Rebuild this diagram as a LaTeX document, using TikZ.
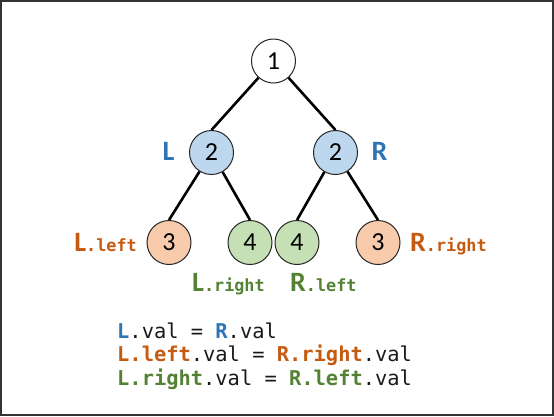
\documentclass[tikz,border=0pt]{standalone}
\usepackage{fontspec}
\setmainfont{Carlito}
\newfontfamily\codefont{DejaVu Sans Mono}
\definecolor{cblue}{HTML}{2E75B6}
\definecolor{corange}{HTML}{C55A11}
\definecolor{cgreen}{HTML}{548235}
\definecolor{fblue}{HTML}{BDD7EE}
\definecolor{forange}{HTML}{F8CBAD}
\definecolor{fgreen}{HTML}{C5E0B4}
\begin{document}
\begin{tikzpicture}[x=1pt,y=-1pt,
  tnode/.style={circle,draw=black!85,line width=1pt,minimum size=44pt,inner sep=0pt,font=\fontsize{26}{26}\selectfont},
  edge/.style={line width=2.6pt,black},
  biglab/.style={inner sep=0pt,font=\bfseries\fontsize{28}{28}\selectfont},
  code/.style={inner sep=0pt,anchor=base west,font=\codefont\fontsize{20.4}{20.4}\selectfont,text=black!90}
]
\newcommand{\sfx}[1]{{\codefont\fontsize{16.8}{16.8}\selectfont #1}}
\useasboundingbox (0,0) rectangle (554,416);
\draw[line width=1.6pt,black!80] (0.8,0.8) rectangle (553.2,415.2);

\node[tnode,fill=white] (root) at (273.5,61) {1};
\node[tnode,fill=fblue] (L) at (211.5,152.5) {2};
\node[tnode,fill=fblue] (R) at (335.5,152.5) {2};
\node[tnode,fill=forange] (LL) at (169,242.5) {3};
\node[tnode,fill=fgreen] (LR) at (250,242.5) {4};
\node[tnode,fill=fgreen] (RL) at (297,242.5) {4};
\node[tnode,fill=forange] (RR) at (378,242.5) {3};

\draw[edge] (root) -- (L.north);
\draw[edge] (root) -- (R.north);
\draw[edge] (L) -- (LL.north);
\draw[edge] (L) -- (LR.north);
\draw[edge] (R) -- (RL.north);
\draw[edge] (R) -- (RR.north);

\node[biglab,text=cblue,anchor=base] (labL) at (168.5,160.5) {L};
\node[biglab,text=cblue,anchor=base] (labR) at (379.5,160.5) {R};

\node[biglab,text=corange,anchor=base east] (labLL) at (137,251.5) {L\sfx{.left}};
\node[biglab,text=corange,anchor=base west] (labRR) at (410,251.5) {R\sfx{.right}};
\node[biglab,text=cgreen,anchor=base west] (labLR) at (192,291) {L\sfx{.right}};
\node[biglab,text=cgreen,anchor=base west] (labRL) at (290,291) {R\sfx{.left}};

\node[code] (c1) at (117,338) {\textcolor{cblue}{\bfseries L}.val = \textcolor{cblue}{\bfseries R}.val};
\node[code] (c2) at (117,361.5) {\textcolor{corange}{\bfseries L.left}.val = \textcolor{corange}{\bfseries R.right}.val};
\node[code] (c3) at (117,385) {\textcolor{cgreen}{\bfseries L.right}.val = \textcolor{cgreen}{\bfseries R.left}.val};
\end{tikzpicture}
\end{document}
